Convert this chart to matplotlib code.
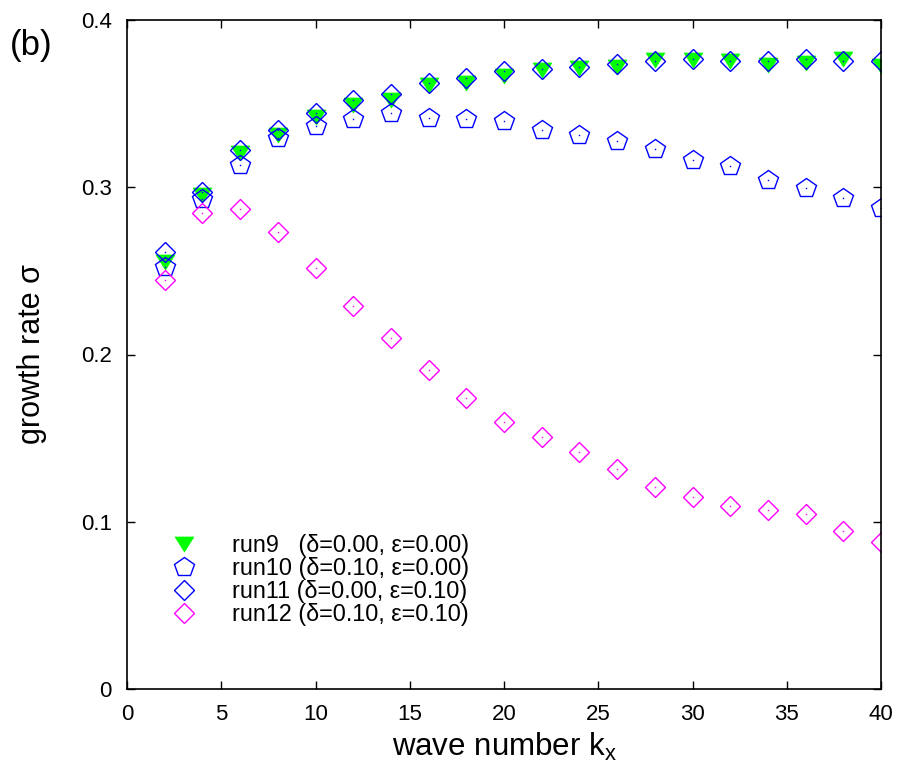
import matplotlib
matplotlib.use('Agg')
import matplotlib.pyplot as plt
import numpy as np

plt.rcParams['font.family'] = ['Liberation Sans', 'DejaVu Sans']

# wave numbers
kx = [2, 4, 6, 8, 10, 12, 14, 16, 18, 20, 22, 24, 26, 28, 30, 32, 34, 36, 38, 40]

run9 = [0.2553, 0.2952, 0.3205, 0.3310, 0.3420, 0.3490, 0.3520, 0.3611, 0.3621, 0.3667,
        0.3699, 0.3713, 0.3721, 0.3759, 0.3763, 0.3753, 0.3731, 0.3741, 0.3769, 0.3723]
run10 = [0.2525, 0.2928, 0.3133, 0.3296, 0.3366, 0.3406, 0.3446, 0.3412, 0.3406, 0.3396,
         0.3342, 0.3312, 0.3277, 0.3227, 0.3165, 0.3125, 0.3045, 0.2996, 0.2936, 0.2874]
run11 = [0.2610, 0.2973, 0.3223, 0.3342, 0.3444, 0.3524, 0.3556, 0.3625, 0.3655, 0.3695,
         0.3707, 0.3717, 0.3735, 0.3755, 0.3765, 0.3755, 0.3755, 0.3765, 0.3755, 0.3755]
run12 = [0.2445, 0.2844, 0.2870, 0.2730, 0.2520, 0.2290, 0.2099, 0.1907, 0.1740, 0.1596,
         0.1507, 0.1417, 0.1315, 0.1208, 0.1148, 0.1094, 0.1070, 0.1046, 0.0945, 0.0879]

labels = ['run9   (\u03b4=0.00, \u03b5=0.00)',
          'run10 (\u03b4=0.10, \u03b5=0.00)',
          'run11 (\u03b4=0.00, \u03b5=0.10)',
          'run12 (\u03b4=0.10, \u03b5=0.10)']

green = '#00ff00'
blue = '#0000ff'
magenta = '#ff00ff'

# gnuplot-like triangle pointing down
tri_down = [(-1, 0.8), (1, 0.8), (0, -0.8), (-1, 0.8)]

fig = plt.figure(figsize=(9.01, 7.69), dpi=100)
ax = fig.add_axes([127 / 901, 1 - 689 / 769, 754 / 901, 669 / 769])

ax.plot(kx, run9, linestyle='none', marker=tri_down, ms=13.5, mfc=green, mec=green,
        mew=0.5, label=labels[0])
ax.plot(kx, run10, linestyle='none', marker='p', ms=15, mfc='none', mec=blue, mew=1.0,
        label=labels[1])
ax.plot(kx, run10, linestyle='none', marker='s', ms=1, mfc=blue, mec='none')
ax.plot(kx, run11, linestyle='none', marker='D', ms=10, mfc='none', mec=blue, mew=1.0,
        label=labels[2])
ax.plot(kx, run11, linestyle='none', marker='s', ms=1, mfc=blue, mec='none')
ax.plot(kx, run12, linestyle='none', marker='D', ms=10, mfc='none', mec=magenta, mew=1.0,
        label=labels[3])
ax.plot(kx, run12, linestyle='none', marker='s', ms=1, mfc=magenta, mec='none')

ax.set_xlim(0, 40)
ax.set_ylim(0, 0.4)
ax.set_xticks(np.arange(0, 41, 5))
ax.set_yticks([0, 0.1, 0.2, 0.3, 0.4])
ax.set_yticklabels(['0', '0.1', '0.2', '0.3', '0.4'])
ax.tick_params(direction='in', length=6, width=1.0, top=True, right=True,
               labelsize=16, pad=11)
for s in ax.spines.values():
    s.set_linewidth(1.2)

ax.set_xlabel('wave number k$_\\mathregular{x}$', fontsize=22.5, labelpad=4)
ax.set_ylabel('growth rate \u03c3', fontsize=22, labelpad=24)

fig.text(10 / 901, 1 - 45 / 769, '(b)', fontsize=25, va='center', ha='left')

ax.legend(loc='upper left', bbox_to_anchor=(0.045, 0.245), frameon=False,
          fontsize=16.8, handlelength=1.2, handletextpad=1.45, labelspacing=0.0,
          borderaxespad=0)

plt.savefig('out.png', dpi=100)
